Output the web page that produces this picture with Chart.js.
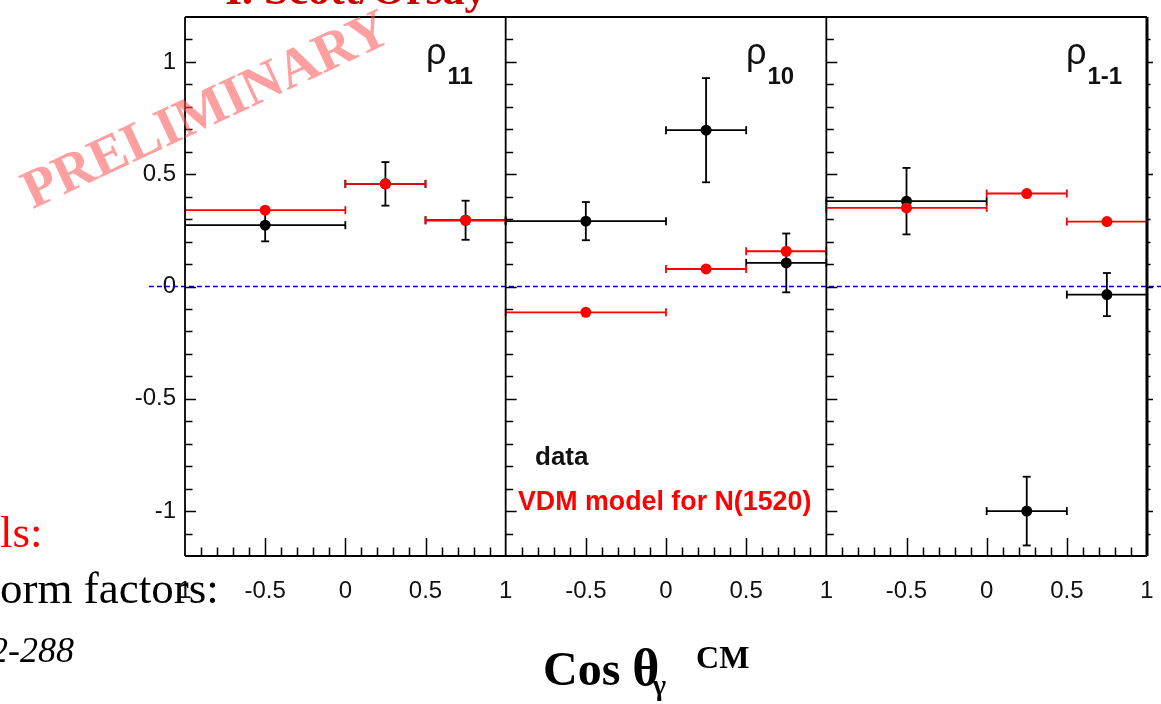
<!DOCTYPE html>
<html>
<head>
<meta charset="utf-8">
<script src="https://cdn.jsdelivr.net/npm/chart.js@4.4.1/dist/chart.umd.min.js"></script>
<style>
  html, body { margin:0; padding:0; background:#fff; }
  #wrap { position:relative; width:1161px; height:704px; overflow:hidden; background:#fff; }
  #c { position:absolute; left:0; top:0; }
  #ov { position:absolute; left:0; top:0; pointer-events:none; }
</style>
</head>
<body>
<div id="wrap">
<canvas id="c" width="1161" height="704"></canvas>
<svg id="ov" width="1161" height="704" xmlns="http://www.w3.org/2000/svg">
  <text x="225" y="4" font-family="Liberation Serif" font-weight="bold" font-size="44" fill="#cc0000">I. Scott/Orsay</text>
  <text x="0" y="547" font-family="Liberation Serif" font-size="45" fill="#ff0000">ls:</text>
  <text x="-15" y="603" font-family="Liberation Serif" font-size="45" fill="#000">form factors:</text>
  <text x="-10" y="662" font-family="Liberation Serif" font-style="italic" font-size="36" fill="#000">2-288</text>
  <text x="543" y="685" font-family="Liberation Serif" font-weight="bold" font-size="48" fill="#000">Cos <tspan font-size="52">θ</tspan><tspan font-size="29" dx="-7" dy="10">γ</tspan><tspan font-size="32" dx="30" dy="-27">CM</tspan></text>
  <text x="426" y="64" font-family="Liberation Sans" font-size="36" fill="#111">ρ<tspan font-size="24" font-weight="bold" dx="1" dy="20">11</tspan></text>
  <text x="746" y="64" font-family="Liberation Sans" font-size="36" fill="#111">ρ<tspan font-size="24" font-weight="bold" dx="1" dy="20">10</tspan></text>
  <text x="1066" y="64" font-family="Liberation Sans" font-size="36" fill="#111">ρ<tspan font-size="24" font-weight="bold" dx="1" dy="20">1-1</tspan></text>
  <text x="535" y="465" font-family="Liberation Sans" font-weight="bold" font-size="26" fill="#111">data</text>
  <text x="518" y="510" font-family="Liberation Sans" font-weight="bold" font-size="26.8" fill="#ff0000">VDM model for N(1520)</text>
  <text x="0" y="0" transform="translate(213,125) rotate(-25)" text-anchor="middle" font-family="Liberation Serif" font-weight="bold" font-size="55" fill="rgba(255,80,80,0.55)">PRELIMINARY</text>
</svg>
</div>
<script>
// ---- data ----
const panelNames = ['ρ11', 'ρ10', 'ρ1-1'];
const binCentres = [-0.5, 0.25, 0.75];
const binLow     = [-1.0, 0.0, 0.5];
const binHigh    = [0.0, 0.5, 1.0];

const rho11Data  = [0.273, 0.457, 0.295];
const rho11Err   = [0.072, 0.097, 0.087];
const rho11Vdm   = [0.340, 0.457, 0.295];

const rho10Data  = [0.291, 0.696, 0.105];
const rho10Err   = [0.085, 0.232, 0.131];
const rho10Vdm   = [-0.115, 0.078, 0.157];

const rho1m1Data = [0.380, -1.000, -0.036];
const rho1m1Err  = [0.148, 0.153, 0.096];
const rho1m1Vdm  = [0.350, 0.414, 0.289];

const yTickValues = [-1, -0.5, 0, 0.5, 1];
const yTickLabels = ['-1', '-0.5', '0', '0.5', '1'];
const xTickLabels = ['1', '-0.5', '0', '0.5', '1', '-0.5', '0', '0.5', '1', '-0.5', '0', '0.5', '1'];
const panelLocalTicks = [-1, -0.5, 0, 0.5];

// ---- build datasets ----
const panels = [
  { data: rho11Data,  err: rho11Err,  vdm: rho11Vdm  },
  { data: rho10Data,  err: rho10Err,  vdm: rho10Vdm  },
  { data: rho1m1Data, err: rho1m1Err, vdm: rho1m1Vdm }
];
const PANEL_SPAN = 2;
const GAP = { x: NaN, y: NaN };
const blackPts = [], blackX = [], blackY = [], redPts = [], redX = [];
panels.forEach((p, i) => {
  const off = i * PANEL_SPAN;
  binCentres.forEach((c, j) => {
    const xc = c + off, lo = binLow[j] + off, hi = binHigh[j] + off;
    blackPts.push({ x: xc, y: p.data[j] });
    blackX.push({ x: lo, y: p.data[j] }, { x: hi, y: p.data[j] }, Object.assign({}, GAP));
    blackY.push({ x: xc, y: p.data[j] - p.err[j] }, { x: xc, y: p.data[j] + p.err[j] }, Object.assign({}, GAP));
    redPts.push({ x: xc, y: p.vdm[j] });
    redX.push({ x: lo, y: p.vdm[j] }, { x: hi, y: p.vdm[j] }, Object.assign({}, GAP));
  });
});
const xTickValues = [];
for (let i = 0; i < panels.length; i++) panelLocalTicks.forEach(t => xTickValues.push(t + i * PANEL_SPAN));
xTickValues.push(1 + (panels.length - 1) * PANEL_SPAN);
const xMin = -1, xMax = 1 + (panels.length - 1) * PANEL_SPAN;

const BLACK = '#000000', RED = '#ff0000';
const barStyle = (color, rot, order) => ({
  showLine: true, spanGaps: false, borderColor: color, borderWidth: 1.8,
  pointStyle: 'line', pointRotation: rot, pointRadius: 4, pointHoverRadius: 4,
  pointBorderColor: color, pointBorderWidth: 1.8, order
});

const framePlugin = {
  id: 'frame',
  afterDraw(chart) {
    const { ctx, chartArea: a, scales: { x, y } } = chart;
    ctx.save();
    ctx.strokeStyle = '#000';
    ctx.lineCap = 'butt';
    ctx.lineWidth = 1.8;
    ctx.beginPath();
    ctx.moveTo(a.left, a.top); ctx.lineTo(a.right, a.top);
    ctx.moveTo(a.left, a.top); ctx.lineTo(a.left, a.bottom);
    ctx.moveTo(a.left, a.bottom); ctx.lineTo(a.right, a.bottom);
    for (let i = 1; i < panels.length; i++) {
      const px = x.getPixelForValue(-1 + i * PANEL_SPAN);
      ctx.moveTo(px, a.top); ctx.lineTo(px, a.bottom);
    }
    ctx.stroke();
    ctx.lineWidth = 3;
    ctx.beginPath(); ctx.moveTo(a.right, a.top); ctx.lineTo(a.right, a.bottom); ctx.stroke();
    ctx.lineWidth = 1.5;
    ctx.beginPath();
    for (let k = -11; k <= 11; k++) {
      const py = Math.round(y.getPixelForValue(k / 10)) + 0.5;
      const major = k % 5 === 0;
      for (let i = 0; i < panels.length; i++) {
        const px = x.getPixelForValue(-1 + i * PANEL_SPAN);
        ctx.moveTo(px, py); ctx.lineTo(px + (major ? 11 : 7.5), py);
      }
      ctx.moveTo(a.right, py); ctx.lineTo(a.right + (major ? 6 : 3.5), py);
    }
    for (let i = 0; i < panels.length; i++) {
      for (let k = -9; k <= 9; k++) {
        const px = Math.round(x.getPixelForValue(k / 10 + i * PANEL_SPAN)) + 0.5;
        const major = k % 5 === 0;
        ctx.moveTo(px, a.bottom); ctx.lineTo(px, a.bottom - (major ? 18 : 8.5));
      }
    }
    ctx.stroke();
    ctx.restore();
  }
};

Chart.defaults.font.family = "'Liberation Sans', Arial, sans-serif";

new Chart(document.getElementById('c'), {
  type: 'scatter',
  data: {
    datasets: [
      { label: 'VDM model for N(1520)', data: redPts, pointRadius: 5.5, pointHoverRadius: 5.5,
        pointBackgroundColor: RED, pointBorderWidth: 0, order: 0 },
      Object.assign({ label: 'vdm-x', data: redX }, barStyle(RED, 90, 1)),
      { label: 'data', data: blackPts, pointRadius: 5.5, pointHoverRadius: 5.5,
        pointBackgroundColor: BLACK, pointBorderWidth: 0, order: 2 },
      Object.assign({ label: 'data-y', data: blackY }, barStyle(BLACK, 0, 3)),
      Object.assign({ label: 'data-x', data: blackX }, barStyle(BLACK, 90, 4)),
      { label: 'zero', data: [{ x: xMin - 0.225, y: 0 }, { x: xMax + 0.09, y: 0 }],
        showLine: true, borderColor: '#0000c8', borderWidth: 1.6, borderDash: [5, 3],
        pointRadius: 0, clip: false, order: 5 }
    ]
  },
  options: {
    responsive: false,
    devicePixelRatio: 1,
    animation: false,
    layout: { padding: { top: 17, right: 14, left: 0, bottom: 0 } },
    plugins: { legend: { display: false }, tooltip: { enabled: false } },
    scales: {
      x: {
        type: 'linear', min: xMin, max: xMax,
        afterBuildTicks: s => { s.ticks = xTickValues.map(v => ({ value: v })); },
        afterFit: s => { s.height = 148; },
        ticks: { callback: (v, i) => xTickLabels[i], autoSkip: false, maxRotation: 0,
                 padding: 0, color: '#111', font: { size: 24 } },
        grid: { display: false, drawTicks: true, tickLength: 21 },
        border: { display: false }
      },
      y: {
        type: 'linear', min: -1.2, max: 1.2,
        afterBuildTicks: s => { s.ticks = yTickValues.map(v => ({ value: v })); },
        afterFit: s => { s.width = 185; },
        ticks: { callback: (v, i) => yTickLabels[i], padding: 0, color: '#111', font: { size: 24 } },
        grid: { display: false, drawTicks: true, tickLength: 9 },
        border: { display: false }
      }
    }
  },
  plugins: [framePlugin]
});
</script>
</body>
</html>
